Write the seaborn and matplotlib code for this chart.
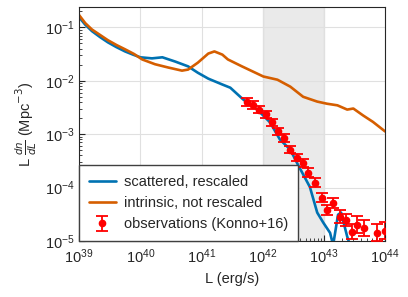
import numpy as np
import pandas as pd
import seaborn as sns
from matplotlib import pyplot as plt

# log10 L and log10 (L dn/dL)
scat_logL = [39.0, 39.1, 39.21, 39.34, 39.47, 39.61, 39.75, 39.88, 40.0, 40.19, 40.36, 40.57,
             40.78, 40.94, 41.11, 41.34, 41.47, 41.68, 41.91, 42.12, 42.28, 42.45, 42.56,
             42.77, 42.89, 42.99, 43.10, 43.15, 43.23, 43.28, 43.38, 43.46, 43.7]
scat_logn = [-0.81, -0.95, -1.07, -1.18, -1.28, -1.37, -1.45, -1.51, -1.56, -1.58, -1.56,
             -1.64, -1.73, -1.85, -1.96, -2.07, -2.13, -2.35, -2.54, -2.78, -3.10, -3.29,
             -3.54, -3.99, -4.47, -4.66, -4.85, -5.08, -4.51, -4.47, -4.92, -5.2, -6.0]

intr_logL = [39.0, 39.1, 39.21, 39.34, 39.47, 39.61, 39.75, 39.9, 40.03, 40.24, 40.45, 40.68,
             40.78, 40.94, 41.11, 41.21, 41.34, 41.43, 41.66, 42.01, 42.24, 42.45, 42.66,
             42.89, 43.05, 43.22, 43.38, 43.48, 43.64, 43.80, 44.0]
intr_logn = [-0.77, -0.92, -1.04, -1.14, -1.24, -1.33, -1.41, -1.50, -1.60, -1.69, -1.75,
             -1.81, -1.79, -1.66, -1.49, -1.45, -1.51, -1.60, -1.73, -1.92, -1.98, -2.11,
             -2.30, -2.39, -2.43, -2.46, -2.54, -2.52, -2.65, -2.77, -2.95]

obs_logL = [41.745, 41.843, 41.941, 42.056, 42.154, 42.252, 42.350, 42.448, 42.562, 42.660,
            42.742, 42.856, 42.971, 43.052, 43.150, 43.265, 43.363, 43.461, 43.542, 43.657,
            43.869, 44.0]
obs_logn = [-2.40, -2.45, -2.54, -2.63, -2.78, -2.95, -3.07, -3.29, -3.44, -3.54,
            -3.72, -3.91, -4.19, -4.42, -4.29, -4.55, -4.61, -4.83, -4.70, -4.76,
            -4.85, -4.81]
obs_err = [0.07, 0.07, 0.07, 0.07, 0.07, 0.07, 0.07, 0.07, 0.07, 0.07,
           0.08, 0.08, 0.09, 0.10, 0.10, 0.12, 0.12, 0.14, 0.16, 0.15,
           0.16, 0.16]

scat = pd.DataFrame({"L": np.power(10.0, scat_logL), "n": np.power(10.0, scat_logn)})
intr = pd.DataFrame({"L": np.power(10.0, intr_logL), "n": np.power(10.0, intr_logn)})
obs_L = np.power(10.0, obs_logL)
obs_n = np.power(10.0, obs_logn)
lo = obs_n - np.power(10.0, np.array(obs_logn) - np.array(obs_err))
hi = np.power(10.0, np.array(obs_logn) + np.array(obs_err)) - obs_n

sns.set_style("ticks")
plt.rcParams["font.family"] = ["Liberation Sans", "DejaVu Sans"]
plt.rcParams["mathtext.fontset"] = "dejavusans"

fig = plt.figure(figsize=(4.08, 2.97), dpi=100)
ax = fig.add_axes([0.194, 0.189, 0.75, 0.787])

ax.axvspan(1e42, 1e43, facecolor="0.5", alpha=0.16, edgecolor="0.55", lw=1, zorder=0)

sns.lineplot(data=scat, x="L", y="n", color="#0072B2", lw=1.9, ax=ax,
             label="scattered, rescaled", sort=False)
sns.lineplot(data=intr, x="L", y="n", color="#D55E00", lw=1.9, ax=ax,
             label="intrinsic, not rescaled", sort=False)
ax.errorbar(obs_L, obs_n, yerr=[lo, hi], fmt="o", color="red", ms=4.5,
            capsize=4, elinewidth=1.3, capthick=1.3, label="observations (Konno+16)",
            zorder=5)

ax.set_xscale("log")
ax.set_yscale("log")
ax.set_xlim(1e39, 1e44)
ax.set_ylim(1e-5, 0.24)
ax.grid(True, which="major", color="0.88", lw=0.8)
ax.tick_params(which="both", direction="in", labelsize=10.5)
ax.tick_params(axis="x", pad=5)
ax.tick_params(which="major", length=4)
ax.tick_params(which="minor", length=2)
for s in ax.spines.values():
    s.set_color("0.15")

ax.set_xlabel("L (erg/s)", fontsize=10.5)
ax.set_ylabel(r"L $\frac{dn}{dL}$ (Mpc$^{-3}$)", fontsize=10.5)

leg = ax.legend(loc="lower left", borderaxespad=0, fancybox=False, fontsize=10.5,
                framealpha=1, edgecolor="0.25", handlelength=1.9, handletextpad=0.55,
                borderpad=0.65, labelspacing=0.5)
leg.get_frame().set_linewidth(1.0)

plt.savefig("out.png", dpi=100)
